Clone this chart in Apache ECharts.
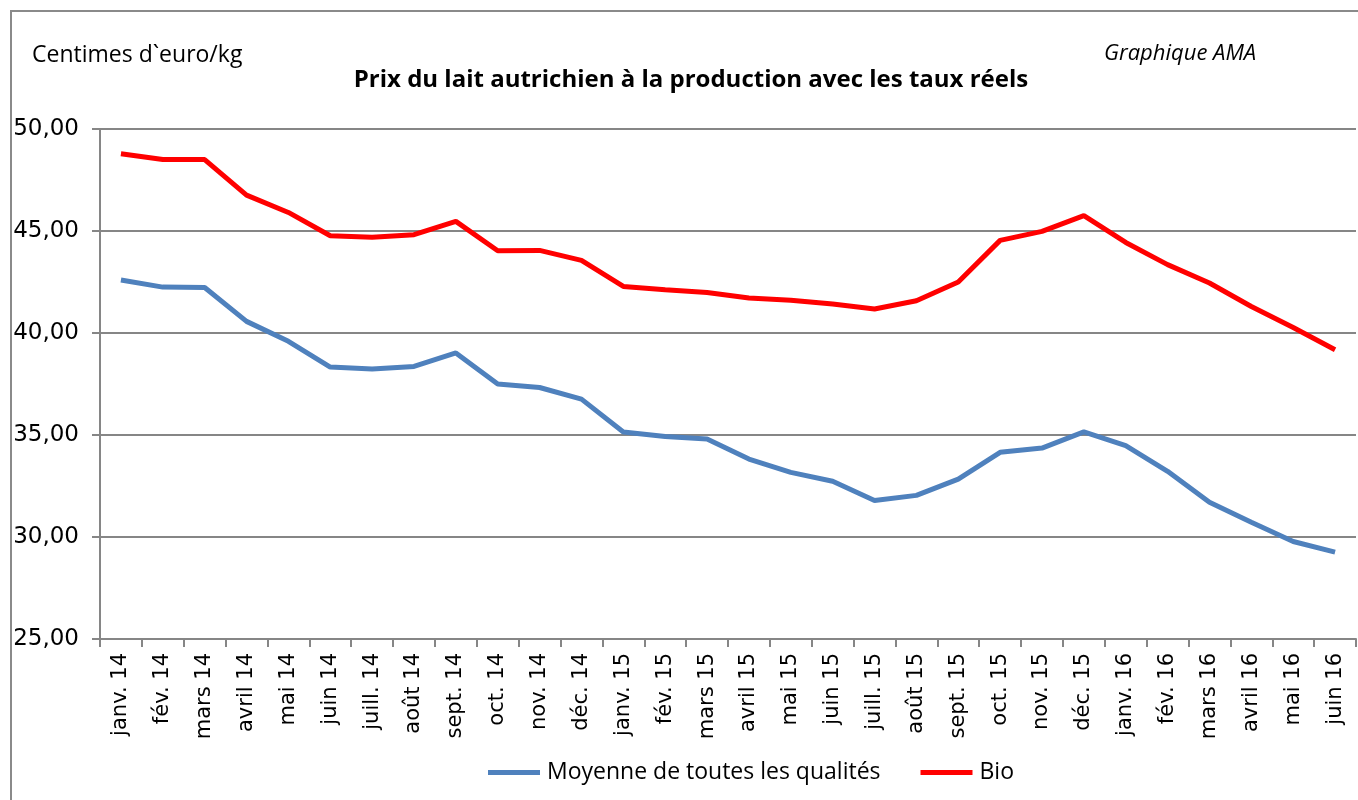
<!DOCTYPE html>
<html>
<head>
<meta charset="utf-8">
<title>Prix du lait</title>
<script src="https://cdn.jsdelivr.net/npm/echarts@6/dist/echarts.min.js"></script>
<style>
html,body{margin:0;padding:0;background:#fff;}
#main{width:1358px;height:800px;}
</style>
</head>
<body>
<div id="main"></div>
<script>
// mois (axe x)
var months=['janv. 14','fév. 14','mars 14','avril 14','mai 14','juin 14','juill. 14','août 14','sept. 14','oct. 14','nov. 14','déc. 14',
    'janv. 15','fév. 15','mars 15','avril 15','mai 15','juin 15','juill. 15','août 15','sept. 15','oct. 15','nov. 15','déc. 15',
    'janv. 16','fév. 16','mars 16','avril 16','mai 16','juin 16'];
// Moyenne de toutes les qualités
var moyenne=[42.60,42.25,42.23,40.57,39.59,38.33,38.24,38.36,39.02,37.50,37.33,36.76,
    35.15,34.93,34.80,33.82,33.17,32.73,31.79,32.04,32.84,34.15,34.36,35.15,
    34.48,33.22,31.70,30.72,29.78,29.26];
// Bio
var bio=[48.79,48.50,48.50,46.76,45.91,44.77,44.69,44.82,45.47,44.03,44.05,43.56,
    42.28,42.12,41.99,41.72,41.60,41.42,41.18,41.58,42.50,44.54,44.98,45.75,
    44.44,43.35,42.45,41.30,40.27,39.18];
var yTicks={min:25,max:50,step:5};

var axisGrey='#868686';
var chart=echarts.init(document.getElementById('main'));
var option={
    backgroundColor:'#fff',
    animation:false,
    graphic:[
        {type:'rect',shape:{x:11,y:11,width:1400,height:900},style:{fill:'none',stroke:'#8a8a8a',lineWidth:2},silent:true},
        {type:'text',left:32,top:44,style:{text:'Centimes d`euro/kg',font:'23px "Open Sans"',fill:'#000'}},
        {type:'text',left:1104,top:43,style:{text:'Graphique AMA',font:'italic 22px "Open Sans"',fill:'#000'}}
    ],
    title:{
        text:'Prix du lait autrichien à la production avec les taux réels',
        left:686,
        textAlign:'center',
        top:63,
        textStyle:{fontFamily:'Open Sans',fontWeight:'bold',fontSize:24,color:'#000'}
    },
    legend:{
        top:756,
        left:483,
        itemWidth:52,
        itemHeight:5,
        itemGap:40,
        icon:'rect',
        textStyle:{fontFamily:'Open Sans',fontSize:23,color:'#000',padding:[0,0,0,2]},
        data:['Moyenne de toutes les qualités','Bio']
    },
    grid:{left:100,right:2,top:129,bottom:161,containLabel:false},
    xAxis:{
        type:'category',
        data:months,
        boundaryGap:true,
        axisLine:{lineStyle:{color:axisGrey,width:2}},
        axisTick:{show:true,length:8,lineStyle:{color:axisGrey,width:2}},
        axisLabel:{rotate:90,interval:0,margin:14,fontFamily:'DejaVu Sans',fontSize:21,color:'#000'}
    },
    yAxis:{
        type:'value',
        min:yTicks.min,
        max:yTicks.max,
        interval:yTicks.step,
        axisLine:{show:true,lineStyle:{color:axisGrey,width:2}},
        axisTick:{show:true,length:8,lineStyle:{color:axisGrey,width:2}},
        splitLine:{lineStyle:{color:axisGrey,width:2}},
        axisLabel:{
            margin:21,
            fontFamily:'DejaVu Sans',
            fontSize:23,
            color:'#000',
            formatter:function(v){return v.toFixed(2).replace('.',',');}
        }
    },
    series:[
        {
            name:'Moyenne de toutes les qualités',
            type:'line',
            data:moyenne,
            showSymbol:false,
            symbol:'none',
            lineStyle:{color:'#4f81bd',width:5},
            itemStyle:{color:'#4f81bd'}
        },
        {
            name:'Bio',
            type:'line',
            data:bio,
            showSymbol:false,
            symbol:'none',
            lineStyle:{color:'#ff0000',width:5},
            itemStyle:{color:'#ff0000'}
        }
    ]
};
chart.setOption(option);
</script>
</body>
</html>
